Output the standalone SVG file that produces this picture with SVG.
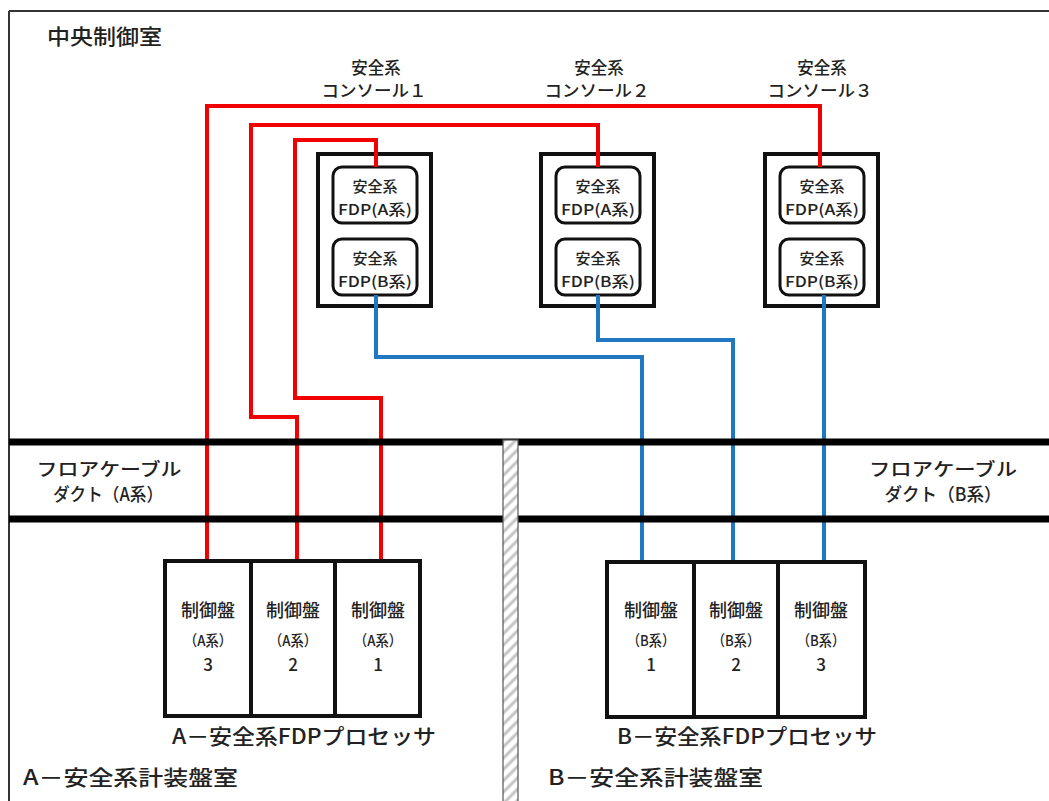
<svg xmlns="http://www.w3.org/2000/svg" width="1049" height="801" viewBox="0 0 1049 801">
<defs>
<pattern id="hatch" patternUnits="userSpaceOnUse" width="8" height="8" patternTransform="rotate(-45)">
<rect width="8" height="8" fill="#ffffff"/>
<line x1="0" y1="4" x2="8" y2="4" stroke="#c4c4c4" stroke-width="3"/>
</pattern>
</defs>
<style>
text{font-family:"Noto Sans CJK JP","Noto Sans",sans-serif;fill:#222;font-weight:500;}
.t21{font-size:21px;}
.t19{font-size:18px;}
.t17{font-size:16.5px;text-anchor:middle;}
.t15{font-size:15px;text-anchor:middle;}
.pa{font-size:18px;text-anchor:middle;}
.ps{font-size:15px;text-anchor:middle;}
.pn{font-size:17px;text-anchor:middle;}
.mid{text-anchor:middle;}
.cons{fill:#fff;stroke:#111;stroke-width:4;}
.fdp{fill:#fff;stroke:#111;stroke-width:3;}
.panel{fill:#fff;stroke:#111;stroke-width:4;}
.red{fill:none;stroke:#f00000;stroke-width:4;}
.blue{fill:none;stroke:#1f78c1;stroke-width:4;}
.duct{stroke:#000;stroke-width:7;}
</style>
<rect width="1049" height="801" fill="#fff"/>
<g id="frame">
<line x1="9" y1="11" x2="1049" y2="11" stroke="#333" stroke-width="2"/>
<line x1="9" y1="11" x2="9" y2="801" stroke="#333" stroke-width="2"/>
</g>
<text class="t21" x="47" y="44" textLength="115" lengthAdjust="spacingAndGlyphs">中央制御室</text>

<g id="console1">
<text class="t17" x="376" y="74">安全系</text>
<text class="t17" x="374" y="97" textLength="105" lengthAdjust="spacingAndGlyphs">コンソール１</text>
<rect class="cons" x="318" y="154" width="113" height="152"/>
<g id="console1-fdpA"><rect class="fdp" x="333" y="167" width="84" height="56" rx="9"/>
<text class="t15" x="375" y="192">安全系</text>
<text class="t15" x="375" y="215" textLength="74" lengthAdjust="spacingAndGlyphs">FDP(A系)</text></g>
<g id="console1-fdpB"><rect class="fdp" x="333" y="239" width="84" height="56" rx="9"/>
<text class="t15" x="375" y="264">安全系</text>
<text class="t15" x="375" y="287" textLength="74" lengthAdjust="spacingAndGlyphs">FDP(B系)</text></g>
</g>

<g id="console2">
<text class="t17" x="599" y="74">安全系</text>
<text class="t17" x="597" y="97" textLength="105" lengthAdjust="spacingAndGlyphs">コンソール２</text>
<rect class="cons" x="541" y="154" width="113" height="152"/>
<g id="console2-fdpA"><rect class="fdp" x="556" y="167" width="84" height="56" rx="9"/>
<text class="t15" x="598" y="192">安全系</text>
<text class="t15" x="598" y="215" textLength="74" lengthAdjust="spacingAndGlyphs">FDP(A系)</text></g>
<g id="console2-fdpB"><rect class="fdp" x="556" y="239" width="84" height="56" rx="9"/>
<text class="t15" x="598" y="264">安全系</text>
<text class="t15" x="598" y="287" textLength="74" lengthAdjust="spacingAndGlyphs">FDP(B系)</text></g>
</g>

<g id="console3">
<text class="t17" x="822" y="74">安全系</text>
<text class="t17" x="820" y="97" textLength="105" lengthAdjust="spacingAndGlyphs">コンソール３</text>
<rect class="cons" x="765" y="154" width="113" height="152"/>
<g id="console3-fdpA"><rect class="fdp" x="780" y="167" width="84" height="56" rx="9"/>
<text class="t15" x="822" y="192">安全系</text>
<text class="t15" x="822" y="215" textLength="74" lengthAdjust="spacingAndGlyphs">FDP(A系)</text></g>
<g id="console3-fdpB"><rect class="fdp" x="780" y="239" width="84" height="56" rx="9"/>
<text class="t15" x="822" y="264">安全系</text>
<text class="t15" x="822" y="287" textLength="74" lengthAdjust="spacingAndGlyphs">FDP(B系)</text></g>
</g>

<g id="connectors">
<polyline class="red" points="820,167 820,106 207,106 207,561"/>
<polyline class="red" points="598,167 598,125 251,125 251,417 297,417 297,561"/>
<polyline class="red" points="376,167 376,140 295,140 295,398 381,398 381,561"/>
<polyline class="blue" points="376,295 376,357 642,357 642,562"/>
<polyline class="blue" points="598,295 598,340 733,340 733,562"/>
<polyline class="blue" points="824,295 824,562"/>
</g>

<g id="ducts">
<line class="duct" x1="9" y1="442" x2="1049" y2="442"/>
<line class="duct" x1="9" y1="519" x2="1049" y2="519"/>
</g>
<g id="wall">
<rect x="503" y="440" width="15" height="362" fill="url(#hatch)" stroke="#555" stroke-width="1.2"/>
</g>

<g id="duct-labels">
<text class="t19 mid" x="109" y="476" textLength="145" lengthAdjust="spacingAndGlyphs">フロアケーブル</text>
<text class="t19 mid" x="108" y="501" textLength="110" lengthAdjust="spacingAndGlyphs">ダクト（A系）</text>
<text class="t19 mid" x="943" y="476" textLength="148" lengthAdjust="spacingAndGlyphs">フロアケーブル</text>
<text class="t19 mid" x="943" y="501" textLength="117" lengthAdjust="spacingAndGlyphs">ダクト（B系）</text>
</g>

<g id="processorA">
<rect class="panel" x="165" y="561" width="255" height="155"/>
<line x1="251" y1="561" x2="251" y2="716" stroke="#111" stroke-width="4"/>
<line x1="335" y1="561" x2="335" y2="716" stroke="#111" stroke-width="4"/>
<g id="panelA3"><text class="pa" x="208" y="617">制御盤</text><text class="ps" x="208" y="646" textLength="48" lengthAdjust="spacingAndGlyphs">（A系）</text><text class="pn" x="208" y="671">3</text></g>
<g id="panelA2"><text class="pa" x="293" y="617">制御盤</text><text class="ps" x="293" y="646" textLength="48" lengthAdjust="spacingAndGlyphs">（A系）</text><text class="pn" x="293" y="671">2</text></g>
<g id="panelA1"><text class="pa" x="378" y="617">制御盤</text><text class="ps" x="378" y="646" textLength="48" lengthAdjust="spacingAndGlyphs">（A系）</text><text class="pn" x="378" y="671">1</text></g>
<text class="t21" x="172" y="744" textLength="264" lengthAdjust="spacingAndGlyphs">A－安全系FDPプロセッサ</text>
</g>

<g id="processorB">
<rect class="panel" x="607" y="562" width="258" height="155"/>
<line x1="694" y1="562" x2="694" y2="717" stroke="#111" stroke-width="4"/>
<line x1="778" y1="562" x2="778" y2="717" stroke="#111" stroke-width="4"/>
<g id="panelB1"><text class="pa" x="651" y="617">制御盤</text><text class="ps" x="651" y="646" textLength="48" lengthAdjust="spacingAndGlyphs">（B系）</text><text class="pn" x="651" y="671">1</text></g>
<g id="panelB2"><text class="pa" x="736" y="617">制御盤</text><text class="ps" x="736" y="646" textLength="48" lengthAdjust="spacingAndGlyphs">（B系）</text><text class="pn" x="736" y="671">2</text></g>
<g id="panelB3"><text class="pa" x="821" y="617">制御盤</text><text class="ps" x="821" y="646" textLength="48" lengthAdjust="spacingAndGlyphs">（B系）</text><text class="pn" x="821" y="671">3</text></g>
<text class="t21" x="617" y="744" textLength="260" lengthAdjust="spacingAndGlyphs">B－安全系FDPプロセッサ</text>
</g>

<g id="rooms">
<text class="t21" x="23" y="785" textLength="215" lengthAdjust="spacingAndGlyphs">A－安全系計装盤室</text>
<text class="t21" x="548" y="785" textLength="215" lengthAdjust="spacingAndGlyphs">B－安全系計装盤室</text>
</g>
</svg>
